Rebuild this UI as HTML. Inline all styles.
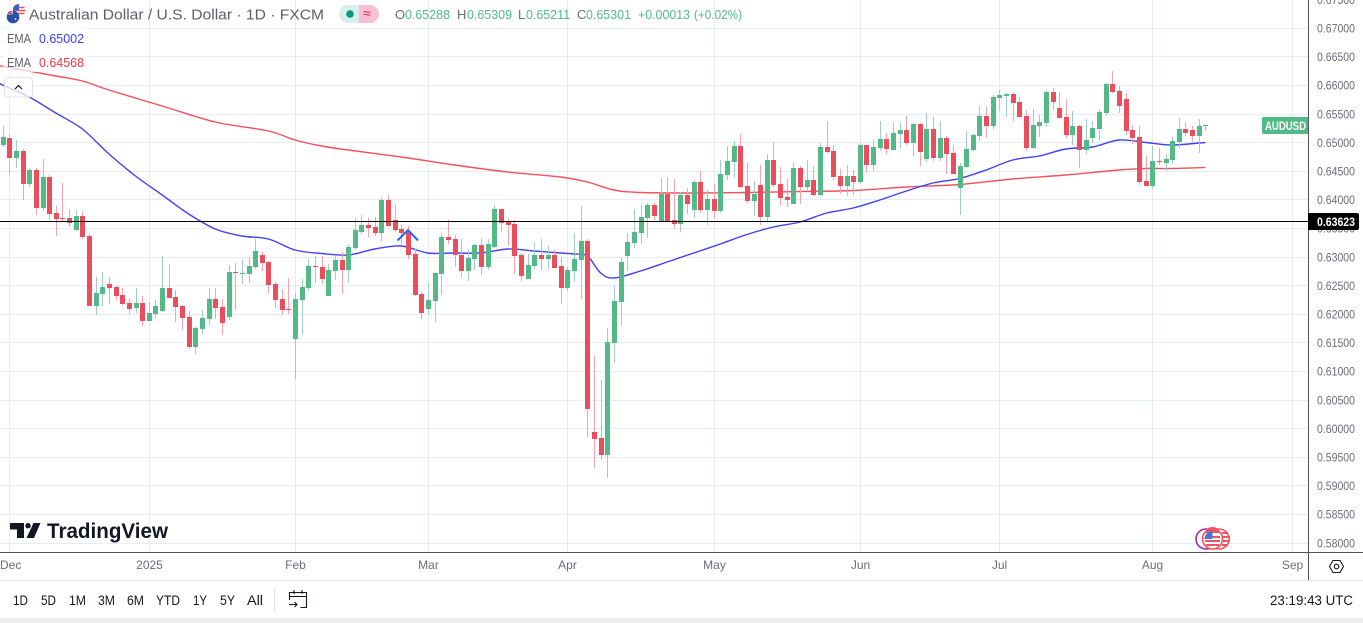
<!DOCTYPE html>
<html lang="en">
<head>
<meta charset="utf-8">
<title>AUD/USD Daily Chart</title>
<style>
html,body{margin:0;padding:0;background:#fff;overflow:hidden}
#stage{display:block;width:1363px;height:623px}
text{font-family:"Liberation Sans",sans-serif}
</style>
</head>
<body>
<svg id="stage" xmlns="http://www.w3.org/2000/svg" width="1363" height="623" viewBox="0 0 1363 623">
  <defs><clipPath id="paneClip"><rect x="0" y="0" width="1308" height="552"/></clipPath></defs>
  <rect x="0" y="0" width="1363" height="623" fill="#ffffff"/>
  <g id="gridLayer" shape-rendering="crispEdges"></g>
  <g id="emaLayer" clip-path="url(#paneClip)"></g>
  <g id="candleLayer" clip-path="url(#paneClip)" shape-rendering="crispEdges"></g>
  <polyline points="397.5,240.5 408,230 418,240.5" fill="none" stroke="#2962ff" stroke-width="2"/>
  <rect id="hLine" x="0" y="221" width="1308" height="1" fill="#000000" shape-rendering="crispEdges"/>

  <g>
    <rect x="3" y="28" width="84" height="20" fill="#ffffff" opacity="0.7"/>
    <rect x="3" y="52" width="84" height="20" fill="#ffffff" opacity="0.7"/>
    <g>
      <circle cx="19" cy="10.5" r="6.5" fill="#ffffff"/>
      <path d="M13.5 7.5h11M13 10.5h12.5M13.5 13.5h11" stroke="#e8505b" stroke-width="1.5"/>
      <path d="M19 4a6.5 6.5 0 0 0-6 4v2.5h6z" fill="#3f62c0"/>
      <circle cx="13" cy="17" r="6.3" fill="#2a4fa8"/>
      <path d="M7.2 14.5h5.8v-3.6" fill="#e8e8f2" opacity="0.85"/>
      <path d="M8 12.5l4.5 1.5M10 11v3" stroke="#d0394a" stroke-width="1"/>
      <circle cx="15.5" cy="19" r="0.9" fill="#fff"/>
    </g>
    <text x="29" y="19.5" font-size="15" fill="#5d606b" textLength="295">Australian Dollar / U.S. Dollar · 1D · FXCM</text>
    <g>
      <path d="M348 5h11v18h-11a9 9 0 0 1 0-18z" fill="#d9efec"/>
      <path d="M359 5h11a9 9 0 0 1 0 18h-11z" fill="#f7bfd2"/>
      <circle cx="350" cy="14" r="3.8" fill="#089981"/>
      <text x="363" y="18" font-size="14" fill="#e91e63">≈</text>
    </g>
    <g font-size="13">
      <text x="395" y="19" fill="#6a6d78">O</text>
      <text x="405" y="19" fill="#53b987" textLength="45">0.65288</text>
      <text x="457" y="19" fill="#6a6d78">H</text>
      <text x="467" y="19" fill="#53b987" textLength="45">0.65309</text>
      <text x="518" y="19" fill="#6a6d78">L</text>
      <text x="526" y="19" fill="#53b987" textLength="44">0.65211</text>
      <text x="577" y="19" fill="#6a6d78">C</text>
      <text x="586" y="19" fill="#53b987" textLength="45">0.65301</text>
      <text x="638" y="19" fill="#53b987" textLength="52">+0.00013</text>
      <text x="694" y="19" fill="#53b987" textLength="48">(+0.02%)</text>
    </g>
    <text x="7" y="43" font-size="13" fill="#5d606b" textLength="24">EMA</text>
    <text x="39" y="43" font-size="13" fill="#3b3bff" textLength="45">0.65002</text>
    <text x="7" y="67" font-size="13" fill="#5d606b" textLength="24">EMA</text>
    <text x="39" y="67" font-size="13" fill="#f23645" textLength="45">0.64568</text>
    <g>
      <rect x="4.5" y="77.5" width="28" height="19.5" rx="3" fill="#ffffff" fill-opacity="0.75" stroke="#e0e3eb"/>
      <path d="M15 89l3.5-3.5L22 89" fill="none" stroke="#131722" stroke-width="1.2"/>
    </g>
  </g>

  <g>
    <path d="M10 523h14v15h-7v-8.5h-7z" fill="#131722"/>
    <circle cx="28" cy="525.7" r="2.7" fill="#131722"/>
    <path d="M33.5 523h7l-6.5 15h-7.5z" fill="#131722"/>
    <text x="47" y="538" font-size="21" font-weight="bold" fill="#131722" textLength="121">TradingView</text>
  </g>

  <g>
    <circle cx="1206" cy="539" r="10" fill="#fff" stroke="#9c27b0" stroke-width="1.6"/>
    <circle cx="1219" cy="539" r="10" fill="#fff" stroke="#f0535f" stroke-width="1.6"/>
    <path d="M1222 533h6M1223 537h7M1223 541h7M1222 545h6" stroke="#f0535f" stroke-width="2"/>
    <g>
      <circle cx="1212.5" cy="539" r="10" fill="#fff" stroke="#f0535f" stroke-width="1.6"/>
      <path d="M1205 537h15M1205 541h15M1206 545h13" stroke="#f0535f" stroke-width="2"/>
      <path d="M1205 533h15v-1.5a8.5 8.5 0 0 0-15 0z" fill="#f0535f"/>
      <path d="M1212.5 531a8 8 0 0 0-8 8h8z" fill="#4a76d8"/>
    </g>
  </g>

  <rect x="0" y="552" width="1308" height="1" fill="#50535e" shape-rendering="crispEdges"/>
  <rect x="1308" y="0" width="1" height="580" fill="#50535e" shape-rendering="crispEdges"/>
  <rect x="1309" y="552" width="54" height="1" fill="#50535e" shape-rendering="crispEdges"/>
  <g id="yTickLayer"></g>
  <g id="xTickLayer"></g>

  <g>
    <path d="M1264 117h44v17h-44a2 2 0 0 1-2-2v-13a2 2 0 0 1 2-2z" fill="#53b987"/>
    <text x="1265" y="130" font-size="12" font-weight="bold" fill="#ffffff" textLength="41">AUDUSD</text>
  </g>
  <g>
    <path d="M1308 213h49a2 2 0 0 1 2 2v13a2 2 0 0 1-2 2h-49z" fill="#000000"/>
    <text id="hLineLabel" x="1317" y="226" font-size="12" font-weight="bold" fill="#ffffff" textLength="38">0.63623</text>
  </g>

  <g>
    <path d="M1329.5 566.5l3.5-6h7l3.5 6-3.5 6h-7z" fill="none" stroke="#131722" stroke-width="1.1"/>
    <circle cx="1336.5" cy="566.5" r="2.3" fill="none" stroke="#131722" stroke-width="1.1"/>
  </g>

  <rect x="0" y="580" width="1363" height="1" fill="#e0e3eb" shape-rendering="crispEdges"/>
  <g font-size="14" fill="#131722">
    <text x="13" y="605" textLength="15">1D</text>
    <text x="41" y="605" textLength="15">5D</text>
    <text x="69" y="605" textLength="17">1M</text>
    <text x="98" y="605" textLength="17">3M</text>
    <text x="127" y="605" textLength="17">6M</text>
    <text x="156" y="605" textLength="24">YTD</text>
    <text x="193" y="605" textLength="14">1Y</text>
    <text x="220" y="605" textLength="15">5Y</text>
    <text x="247" y="605" textLength="16">All</text>
  </g>
  <rect x="274" y="589" width="1" height="22" fill="#e0e3eb" shape-rendering="crispEdges"/>
  <g fill="none" stroke="#131722" stroke-width="1.1">
    <path d="M289.5 600v-7.5h17v15h-6"/>
    <path d="M289.5 596.5h17M294 590v4M302 590v4"/>
    <path d="M289 604.5h8M294.5 602l2.5 2.5-2.5 2.5"/>
  </g>
  <text x="1270" y="605" font-size="13.5" fill="#131722" textLength="83">23:19:43 UTC</text>
  <rect x="0" y="618" width="1363" height="5" fill="#eeeeee" shape-rendering="crispEdges"/>
</svg>

<script>
const opens = [.6496,.6508,.6473,.6485,.6428,.6452,.6386,.6440,.6377,.6368,.6368,.6347,.6372,.6337,.6214,.6235,.6253,.6248,.6234,.6220,.6211,.6220,.6188,.6200,.6206,.6246,.6230,.6214,.6195,.6143,.6174,.6192,.6227,.6213,.6195,.6274,.6270,.6270,.6283,.6304,.6292,.6253,.6227,.6209,.6157,.6225,.6246,.6285,.6283,.6232,.6276,.6295,.6277,.6316,.6344,.6356,.6353,.6342,.6400,.6365,.6349,.6344,.6305,.6235,.6209,.6223,.6270,.6335,.6332,.6304,.6276,.6297,.6321,.6283,.6318,.6384,.6361,.6358,.6304,.6262,.6285,.6304,.6297,.6304,.6285,.6246,.6276,.6295,.6328,.5994,.5984,.5954,.6150,.6221,.6302,.6325,.6342,.6368,.6391,.6363,.6410,.6365,.6358,.6408,.6382,.6431,.6382,.6402,.6381,.6443,.6466,.6494,.6424,.6398,.6426,.6370,.6470,.6428,.6405,.6393,.6456,.6422,.6435,.6408,.6492,.6485,.6442,.6424,.6442,.6431,.6496,.6461,.6491,.6506,.6487,.6515,.6522,.6499,.6533,.6472,.6524,.6473,.6508,.6482,.6421,.6458,.6487,.6512,.6547,.6529,.6578,.6582,.6585,.6571,.6547,.6491,.6529,.6534,.6589,.6561,.6545,.6513,.6529,.6487,.6508,.6524,.6552,.6603,.6590,.6576,.6522,.6510,.6433,.6424,.6468,.6465,.6470,.6501,.6524,.6522,.6512,.65288];
const highs = [.6529,.6515,.6505,.6489,.6456,.6456,.6472,.6443,.6389,.6429,.6384,.6382,.6379,.6340,.6265,.6274,.6265,.6249,.6246,.6227,.6246,.6232,.6221,.6225,.6302,.6288,.6242,.6216,.6206,.6178,.6207,.6246,.6246,.6227,.6286,.6290,.6295,.6300,.6332,.6309,.6293,.6256,.6244,.6263,.6237,.6262,.6297,.6302,.6302,.6288,.6302,.6309,.6323,.6368,.6374,.6368,.6370,.6405,.6408,.6393,.6356,.6354,.6314,.6239,.6255,.6272,.6342,.6365,.6339,.6332,.6312,.6323,.6334,.6332,.6391,.6384,.6367,.6365,.6307,.6305,.6327,.6332,.6320,.6312,.6300,.6283,.6342,.6389,.6332,.6127,.6085,.6176,.6249,.6300,.6342,.6384,.6391,.6395,.6395,.6438,.6440,.6436,.6414,.6421,.6435,.6450,.6417,.6428,.6470,.6494,.6503,.6515,.6465,.6433,.6461,.6480,.6501,.6458,.6436,.6466,.6459,.6470,.6459,.6499,.6538,.6496,.6454,.6461,.6452,.6499,.6496,.6505,.6538,.6517,.6534,.6534,.6547,.6534,.6534,.6552,.6545,.6538,.6512,.6496,.6465,.6520,.6515,.6564,.6562,.6583,.6592,.6587,.6589,.6580,.6557,.6559,.6549,.6592,.6596,.6589,.6576,.6555,.6531,.6542,.6538,.6559,.6604,.6625,.6599,.6587,.6531,.6529,.6477,.6494,.6491,.6480,.6510,.6543,.6536,.6529,.6542,.65309];
const lows = [.6492,.6443,.6456,.6400,.6422,.6374,.6381,.6365,.6337,.6361,.6353,.6346,.6332,.6214,.6199,.6214,.6218,.6225,.6216,.6200,.6202,.6179,.6188,.6193,.6204,.6228,.6186,.6172,.6139,.6130,.6165,.6181,.6192,.6164,.6190,.6207,.6253,.6255,.6279,.6276,.6237,.6211,.6199,.6200,.6087,.6164,.6241,.6255,.6253,.6232,.6260,.6235,.6255,.6312,.6340,.6335,.6337,.6328,.6353,.6344,.6323,.6297,.6232,.6192,.6199,.6186,.6234,.6323,.6283,.6265,.6258,.6277,.6269,.6277,.6316,.6344,.6320,.6270,.6258,.6262,.6279,.6277,.6279,.6281,.6218,.6241,.6256,.6227,.5986,.5931,.5945,.5914,.6115,.6181,.6276,.6316,.6323,.6334,.6365,.6363,.6361,.6349,.6344,.6375,.6368,.6377,.6356,.6367,.6377,.6435,.6438,.6421,.6395,.6372,.6356,.6361,.6422,.6391,.6388,.6393,.6393,.6417,.6407,.6407,.6482,.6435,.6410,.6407,.6408,.6428,.6447,.6450,.6485,.6480,.6487,.6491,.6496,.6477,.6459,.6466,.6468,.6468,.6445,.6445,.6374,.6456,.6485,.6503,.6508,.6524,.6555,.6545,.6538,.6545,.6485,.6489,.6510,.6527,.6557,.6543,.6508,.6496,.6456,.6480,.6499,.6505,.6547,.6587,.6552,.6513,.6498,.6426,.6424,.6419,.6461,.6450,.6463,.6491,.6512,.6501,.6482,.65211];
const closes = [.6510,.6473,.6485,.6428,.6452,.6386,.6440,.6375,.6367,.6367,.6360,.6372,.6335,.6214,.6237,.6248,.6246,.6232,.6218,.6209,.6220,.6188,.6202,.6214,.6246,.6228,.6213,.6193,.6143,.6176,.6193,.6227,.6211,.6185,.6274,.6272,.6272,.6285,.6311,.6290,.6251,.6225,.6207,.6207,.6227,.6248,.6285,.6283,.6262,.6277,.6295,.6277,.6318,.6347,.6356,.6351,.6342,.6400,.6354,.6347,.6342,.6304,.6234,.6202,.6225,.6272,.6335,.6330,.6304,.6276,.6299,.6321,.6283,.6323,.6384,.6360,.6356,.6302,.6267,.6286,.6304,.6297,.6304,.6281,.6246,.6277,.6297,.6328,.6034,.5982,.5954,.6151,.6223,.6292,.6327,.6344,.6370,.6391,.6372,.6410,.6363,.6358,.6408,.6393,.6431,.6382,.6402,.6381,.6445,.6468,.6494,.6422,.6398,.6410,.6370,.6470,.6426,.6403,.6400,.6456,.6422,.6435,.6408,.6492,.6484,.6440,.6424,.6442,.6431,.6496,.6461,.6492,.6506,.6489,.6517,.6522,.6499,.6533,.6484,.6524,.6473,.6508,.6480,.6445,.6459,.6489,.6513,.6547,.6529,.6580,.6583,.6585,.6569,.6545,.6491,.6531,.6536,.6589,.6571,.6543,.6513,.6529,.6487,.6505,.6526,.6554,.6603,.6589,.6564,.6520,.6508,.6431,.6424,.6468,.6466,.6472,.6503,.6524,.6517,.6512,.6529,.65301];

const emaFastIndex = [-1,0,4,8,12,16,20,24,28,32,36,40,44,48,52,56,60,64,68,72,76,80,84,86,88,90,92,96,100,104,108,112,116,120,124,128,132,136,140,144,148,152,156,160,164,168,172,176,180,181];
const emaFastValues = [.66061,.66009,.65799,.65519,.65239,.64802,.64418,.64086,.63754,.63491,.63369,.63317,.63124,.63063,.63037,.63141,.63194,.63072,.63072,.63072,.63141,.63107,.63072,.63054,.63019,.62722,.62635,.62757,.62915,.63072,.63229,.63395,.63526,.63614,.63771,.63858,.63998,.64156,.64295,.64374,.64523,.64698,.64768,.64890,.64925,.65047,.65004,.64960,.64995,.65002];

const emaSlowIndex = [-1,0,8,12,16,24,32,40,44,48,52,60,68,76,84,88,92,96,104,112,120,128,136,144,152,160,168,172,176,181];
const emaSlowValues = [.66358,.66336,.66166,.66079,.65921,.65642,.65362,.65205,.65047,.64942,.64872,.64750,.64610,.64488,.64400,.64313,.64173,.64129,.64120,.64129,.64147,.64164,.64226,.64269,.64365,.64435,.64523,.64549,.64549,.64568];

const priceTicks = [.675,.67,.665,.66,.655,.65,.645,.64,.635,.63,.625,.62,.615,.61,.605,.6,.595,.59,.585,.58];
const dateTickLabels = ["Dec","2025","Feb","Mar","Apr","May","Jun","Jul","Aug","Sep"];
const dateTickIndex = [1,22,44,64,85,107,129,150,173,194];
const dateTickOffsets = [-9.5,0,0,0,0,0,0,0,0,0];
const horizontalLevel = 0.63623;

const NS = "http://www.w3.org/2000/svg";
function yOf(price){ return (0.674948 - price) * 5720; }
function xOf(index){ return 2.65 + 6.645 * index; }
function colOf(index){ return Math.round(xOf(index)); }
function node(parent, tag, attrs){
  const el = document.createElementNS(NS, tag);
  for (const k in attrs) el.setAttribute(k, attrs[k]);
  parent.appendChild(el);
  return el;
}

const grid = document.getElementById("gridLayer");
const yTicks = document.getElementById("yTickLayer");
const xTicks = document.getElementById("xTickLayer");
const GRID = "#e5edf3";

priceTicks.forEach(function(p){
  const y = yOf(p);
  if (p < 0.675) {
    const line = node(grid, "rect", {x:0, y:Math.floor(y), width:1308, height:1, fill:GRID});
    
    
  }
  const label = node(yTicks, "text", {x:1317, y:y+4.2, "font-size":12, fill:"#6a6d78", textLength:38});
  
  
  label.textContent = p.toFixed(5);
});

dateTickLabels.forEach(function(name, i){
  const col = colOf(dateTickIndex[i]);
  const line = node(grid, "rect", {x:col, y:0, width:1, height:552, fill:GRID});
  
  
  const label = node(xTicks, "text", {x:col + 0.5 + dateTickOffsets[i], y:569, "font-size":12, fill:"#6a6d78", "text-anchor": dateTickOffsets[i] ? "start" : "middle"});
  
  
  label.textContent = name;
});

function drawLine(indexes, values, color, name){
  const pts = indexes.map(function(ix, i){ return [xOf(ix), yOf(values[i])]; });
  let d = "M" + pts[0][0].toFixed(1) + " " + pts[0][1].toFixed(1);
  for (let i = 0; i < pts.length - 1; i++) {
    const p0 = pts[Math.max(0, i - 1)], p1 = pts[i], p2 = pts[i + 1], p3 = pts[Math.min(pts.length - 1, i + 2)];
    const c1x = p1[0] + (p2[0] - p0[0]) / 6, c1y = p1[1] + (p2[1] - p0[1]) / 6;
    const c2x = p2[0] - (p3[0] - p1[0]) / 6, c2y = p2[1] - (p3[1] - p1[1]) / 6;
    d += "C" + c1x.toFixed(1) + " " + c1y.toFixed(1) + " " + c2x.toFixed(1) + " " + c2y.toFixed(1) + " " + p2[0].toFixed(1) + " " + p2[1].toFixed(1);
  }
  const line = node(document.getElementById("emaLayer"), "path", {d:d, fill:"none", stroke:color, "stroke-width":1.4, "stroke-linejoin":"round"});
  
  
}
drawLine(emaSlowIndex, emaSlowValues, "#f2505c", "ema-slow-line");
drawLine(emaFastIndex, emaFastValues, "#4040f5", "ema-fast-line");

const candleLayer = document.getElementById("candleLayer");
opens.forEach(function(o, i){
  const c = closes[i], up = c >= o, col = colOf(i);
  const hi = Math.round(yOf(highs[i])), lo = Math.round(yOf(lows[i]));
  const top = Math.round(yOf(Math.max(o, c))), bot = Math.round(yOf(Math.min(o, c)));
  const g = node(candleLayer, "g", {});
  
  
  node(g, "rect", {x:col, y:hi, width:1, height:Math.max(1, lo - hi), fill: up ? "#a3cbc8" : "#f7a3ad"});
  node(g, "rect", {x:col - 2, y:top, width:5, height:Math.max(1, bot - top), fill: up ? "#53b987" : "#eb4d5c"});
});

document.getElementById("hLine").setAttribute("y", Math.floor(yOf(horizontalLevel)));
document.getElementById("hLineLabel").textContent = horizontalLevel.toFixed(5);

document.querySelectorAll("text[textLength]").forEach(function(t){
  t.setAttribute("lengthAdjust", "spacingAndGlyphs");
});
</script>
</body>
</html>
